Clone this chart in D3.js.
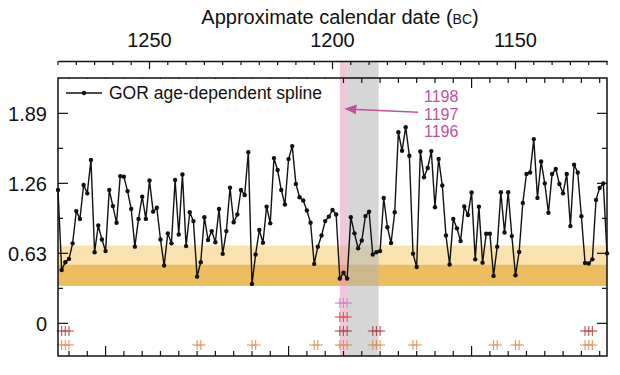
<!DOCTYPE html>
<html>
<head>
<meta charset="utf-8">
<script src="https://cdn.jsdelivr.net/npm/d3@7"></script>
<style>
  body { margin: 0; background: #fff; }
  svg { font-family: "Liberation Sans", Arial, Helvetica, sans-serif; }
</style>
</head>
<body>
<svg id="chart" width="620" height="375"></svg>
<script>
// one value per calendar year, 1275 BC down to 1125 BC
const firstYear = 1275;
const lastYear = 1125;
const gorValues = [
  1.20, 0.48, 0.55, 0.58, 0.72, 1.01, 0.94, 1.245, 1.17, 1.47,
  0.64, 0.88, 0.755, 0.65, 1.20, 1.055, 0.905, 1.325, 1.32, 1.19,
  1.03, 0.69, 0.94, 1.14, 0.94, 1.285, 1.005, 1.04, 0.755, 0.52,
  0.81, 0.72, 1.29, 0.80, 1.34, 0.695, 1.00, 0.92, 0.42, 0.55,
  0.955, 0.75, 0.83, 0.73, 1.03, 0.625, 0.83, 1.22, 0.91, 0.98,
  1.20, 1.155, 1.54, 0.355, 0.62, 0.84, 0.725, 1.05, 0.90, 1.487,
  1.38, 1.20, 1.07, 1.478, 1.595, 1.255, 1.135, 1.105, 1.015, 0.905,
  0.535, 0.69, 0.79, 0.92, 0.96, 1.02, 0.98, 0.403, 0.455, 0.403,
  0.955, 0.81, 0.675, 0.745, 0.965, 1.005, 0.62, 0.64, 0.65, 1.128,
  0.865, 0.723, 1.0, 1.72, 1.553, 1.765, 1.508, 0.627, 0.507, 1.547,
  1.315, 1.398, 1.55, 1.045, 1.48, 1.24, 0.79, 0.53, 0.94, 0.855,
  0.74, 1.052, 0.975, 1.178, 0.576, 1.05, 0.546, 0.806, 0.806, 0.427,
  0.69, 1.18, 0.818, 1.18, 0.785, 0.433, 0.642, 1.084, 1.344, 1.358,
  1.658, 1.129, 1.457, 1.26, 0.995, 1.344, 1.389, 1.254, 1.17, 1.344,
  0.875, 1.428, 1.358, 0.964, 0.543, 0.538, 0.576, 1.111, 1.219, 1.26,
  0.63
];

const yMajorTicks = [0, 0.63, 1.26, 1.89];
const yMinorTicks = [0.315, 0.945, 1.575];
const topMajorTicks = [1250, 1200, 1150];

// shaded ranges
const bandLight = [0.529, 0.70];
const bandDark = [0.337, 0.529];
const pinkYears = [1198, 1196];
const greyYears = [1196, 1187.4];

// arrow + labels
const arrowYears = [1176.6, 1196.4];
const arrowValues = [1.90, 1.93];
const noteLabels = ["1198", "1197", "1196"];

// marker rows at the bottom
const markerRows = ["r1", "r2", "r3", "r4"];
const rowPurple = [1198, 1197, 1196];
const rowRed = [1198, 1197, 1196];
const rowDark = [1274, 1273, 1272, 1198, 1197, 1196, 1189, 1188, 1187, 1131, 1130, 1129];
const rowOrange = [1274, 1273, 1272, 1237, 1236, 1222, 1221, 1205, 1204, 1198, 1197, 1196,
                   1189, 1188, 1187, 1178, 1177, 1156, 1155, 1150, 1149, 1131, 1130, 1129];
const lowerOffset = 12; // inner tick scale is shifted against the calendar

const plotL = 58, plotR = 607, plotT = 78, plotB = 356, axisY = 61;

const svg = d3.select("#chart");

const x = d3.scaleLinear().domain([firstYear, lastYear]).range([plotL, plotR]);
const y = d3.scaleLinear().domain([-0.294, 2.208]).range([plotB, plotT]);
const rowY = d3.scalePoint().domain(markerRows).range([303, 345]);

const points = d3.range(firstYear, lastYear - 1, -1).map((yr, i) => ({ year: yr, v: gorValues[i] }));

// orange bands
svg.append("rect")
  .attr("x", plotL).attr("width", plotR - plotL)
  .attr("y", y(bandLight[1])).attr("height", y(bandLight[0]) - y(bandLight[1]))
  .attr("fill", "#f9e2ad");
svg.append("rect")
  .attr("x", plotL).attr("width", plotR - plotL)
  .attr("y", y(bandDark[1])).attr("height", y(bandDark[0]) - y(bandDark[1]))
  .attr("fill", "#ecbd5e");

// grey and pink year bands
svg.append("rect")
  .attr("x", x(greyYears[0])).attr("width", x(greyYears[1]) - x(greyYears[0]))
  .attr("y", axisY).attr("height", plotB - axisY)
  .attr("fill", "#b4b4b4").attr("opacity", 0.55);
svg.append("rect")
  .attr("x", x(pinkYears[0])).attr("width", x(pinkYears[1]) - x(pinkYears[0]))
  .attr("y", axisY).attr("height", plotB - axisY)
  .attr("fill", "#e39ab9").attr("opacity", 0.55);

// inner tick marks (shifted scale) on top & bottom borders
const innerMajor = d3.range(1250, 1100, -50).map(t => t + lowerOffset);
const innerMinor = d3.range(1275, 1100, -5).map(t => t + lowerOffset).filter(t => !innerMajor.includes(t));
function innerTicks(list, len) {
  list.forEach(t => {
    const px = x(t);
    if (px <= plotL + 1 || px >= plotR - 1) return;
    svg.append("line").attr("x1", px).attr("x2", px).attr("y1", plotB).attr("y2", plotB - len)
      .attr("stroke", "#111").attr("stroke-width", 1.2);
    svg.append("line").attr("x1", px).attr("x2", px).attr("y1", plotT).attr("y2", plotT + len)
      .attr("stroke", "#111").attr("stroke-width", 1.2);
  });
}
innerTicks(innerMajor, 10);
innerTicks(innerMinor, 5);

// left / right ticks
function sideTicks(list, len) {
  list.forEach(t => {
    svg.append("line").attr("x1", plotL).attr("x2", plotL + len).attr("y1", y(t)).attr("y2", y(t))
      .attr("stroke", "#111").attr("stroke-width", 1.2);
    svg.append("line").attr("x1", plotR).attr("x2", plotR - len).attr("y1", y(t)).attr("y2", y(t))
      .attr("stroke", "#111").attr("stroke-width", 1.2);
  });
}
sideTicks(yMajorTicks, 10);
sideTicks(yMinorTicks, 5);

svg.selectAll(".ylab").data(yMajorTicks).enter().append("text")
  .attr("x", 47).attr("y", d => y(d)).attr("dy", "0.36em")
  .attr("text-anchor", "end").attr("font-size", 20).attr("fill", "#111")
  .text(d => d === 0 ? "0" : d.toFixed(2));

// bottom markers
function drawMarks(years, row, color) {
  const g = svg.append("g").attr("stroke", color).attr("stroke-width", 1.1).attr("opacity", 0.85);
  years.forEach(yr => {
    const px = x(yr), py = rowY(row);
    g.append("line").attr("x1", px).attr("x2", px).attr("y1", py - 5).attr("y2", py + 5);
    g.append("line").attr("x1", px - 5).attr("x2", px + 5).attr("y1", py).attr("y2", py);
  });
}
drawMarks(rowPurple, "r1", "#c57fc4");
drawMarks(rowRed, "r2", "#e8404e");
drawMarks(rowDark, "r3", "#a8363a");
drawMarks(rowOrange, "r4", "#e0874c");

// spline line and dots
const line = d3.line().x(d => x(d.year)).y(d => y(d.v));
svg.append("path").datum(points)
  .attr("d", line).attr("fill", "none").attr("stroke", "#111").attr("stroke-width", 1.4);
svg.selectAll(".dot").data(points).enter().append("circle")
  .attr("cx", d => x(d.year)).attr("cy", d => y(d.v)).attr("r", 2.2).attr("fill", "#111");

// legend box (white, covers the inner top ticks)
svg.append("rect").attr("x", plotL + 1).attr("y", plotT + 1).attr("width", 274).attr("height", 26).attr("fill", "#fff");
svg.append("line").attr("x1", 66).attr("x2", 102).attr("y1", 93).attr("y2", 93)
  .attr("stroke", "#111").attr("stroke-width", 1.4);
svg.append("circle").attr("cx", 84).attr("cy", 93).attr("r", 2.2).attr("fill", "#111");
svg.append("text").attr("x", 109).attr("y", 99).attr("font-size", 17.5).attr("fill", "#111")
  .text("GOR age-dependent spline");

// frame
svg.append("rect").attr("x", plotL).attr("y", plotT).attr("width", plotR - plotL).attr("height", plotB - plotT)
  .attr("fill", "none").attr("stroke", "#111").attr("stroke-width", 1.5);

// top calendar axis
const topTickYears = d3.range(1275, lastYear - 1, -5);
const topAxis = d3.axisTop(x).tickValues(topTickYears).tickSize(0).tickFormat("");
const gTop = svg.append("g").attr("transform", `translate(0,${axisY})`).call(topAxis);
gTop.select(".domain").attr("stroke", "#111").attr("stroke-width", 1.3);
gTop.selectAll(".tick").remove();
topTickYears.forEach(t => {
  const major = topMajorTicks.includes(t);
  svg.append("line").attr("x1", x(t)).attr("x2", x(t)).attr("y1", axisY).attr("y2", axisY + (major ? 8 : 4))
    .attr("stroke", "#111").attr("stroke-width", 1.2);
});
svg.selectAll(".xlab").data(topMajorTicks).enter().append("text")
  .attr("x", d => x(d)).attr("y", 47).attr("text-anchor", "middle")
  .attr("font-size", 20).attr("fill", "#111").text(d => d);

const title = svg.append("text").attr("x", 340).attr("y", 24).attr("text-anchor", "middle")
  .attr("font-size", 20).attr("fill", "#111");
title.append("tspan").text("Approximate calendar date (");
title.append("tspan").attr("font-size", 14).text("BC");
title.append("tspan").text(")");

// annotation
const noteColor = "#c4509c";
svg.append("defs").append("marker")
  .attr("id", "arrowhead").attr("viewBox", "0 0 10 10").attr("refX", 9).attr("refY", 5)
  .attr("markerWidth", 8).attr("markerHeight", 8).attr("orient", "auto")
  .append("path").attr("d", "M0,1 L10,5 L0,9 Z").attr("fill", noteColor);
svg.append("line")
  .attr("x1", x(arrowYears[0])).attr("y1", y(arrowValues[0]))
  .attr("x2", x(arrowYears[1])).attr("y2", y(arrowValues[1]))
  .attr("stroke", noteColor).attr("stroke-width", 1.5).attr("marker-end", "url(#arrowhead)");
svg.selectAll(".note").data(noteLabels).enter().append("text")
  .attr("x", 424).attr("y", (d, i) => 102 + i * 17.5)
  .attr("font-size", 16).attr("fill", noteColor).text(d => d);
</script>
</body>
</html>
